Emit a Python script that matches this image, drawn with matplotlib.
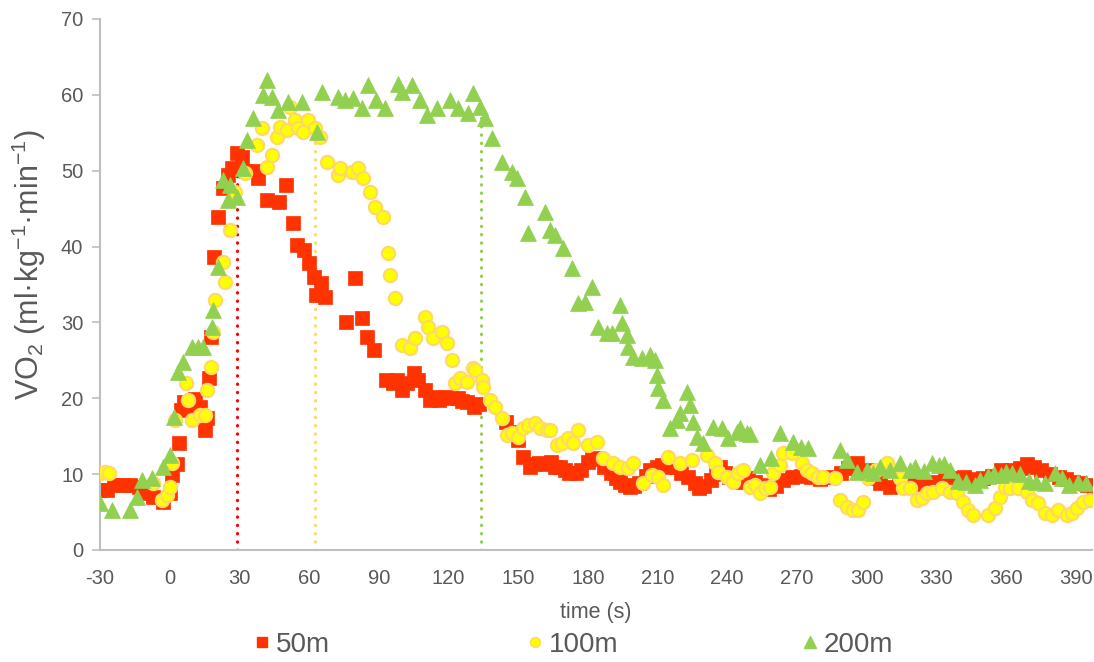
import matplotlib
matplotlib.use("Agg")
import matplotlib.pyplot as plt
from matplotlib.lines import Line2D

plt.rcParams['font.family'] = ['Liberation Sans', 'DejaVu Sans']
plt.rcParams['mathtext.fontset'] = 'custom'
plt.rcParams['mathtext.rm'] = 'Liberation Sans'
plt.rcParams['mathtext.it'] = 'Liberation Sans:italic'
plt.rcParams['axes.unicode_minus'] = False

# ---------------- data ----------------
t50 = [-30, -27, -24, -20, -17, -13, -11, -7, -3, 0, 1, 3, 4, 5, 6, 7, 9, 11, 13, 14, 15, 16, 17, 18,
       19, 21, 23, 25, 27, 29, 31, 33, 36, 38, 42, 47, 50, 53, 55, 58, 60, 62, 63, 65, 67, 76, 80, 83,
       85, 88, 93, 96, 98, 100, 102, 105, 107, 110, 112, 114, 116, 119, 121, 124, 126, 128, 131, 133,
       145, 148, 150, 152, 155, 157, 159, 162, 164, 166, 168, 170, 172, 175, 177, 180, 182, 184, 187,
       190, 192, 194, 196, 198, 200, 202, 205, 207, 210, 212, 215, 218, 220, 223, 226, 228, 230, 233,
       235, 237, 239, 241, 244, 246, 249, 252, 255, 258, 261, 264, 268, 272, 276, 280, 284, 289, 292,
       296, 300, 303, 306, 310, 314, 318, 322, 326, 330, 334, 338, 342, 346, 350, 354, 358, 362, 366,
       369, 372, 375, 379, 383, 386, 389, 392, 395, 398]
v50 = [7.9, 7.9, 8.6, 8.6, 8.6, 8.3, 7.5, 7.0, 6.3, 7.5, 9.9, 11.4, 14.1, 18.5, 19.5, 18.8, 19.5, 19.9,
       18.8, 17.4, 15.8, 17.4, 22.7, 28.1, 38.6, 43.9, 47.7, 49.4, 50.3, 52.3, 51.8, 50.0, 50.0, 49.0,
       46.1, 45.9, 48.1, 43.1, 40.2, 39.5, 37.8, 36.0, 33.6, 35.2, 33.4, 30.1, 35.9, 30.6, 28.1, 26.4,
       22.4, 22.0, 22.4, 21.1, 22.0, 23.3, 22.4, 21.1, 19.8, 20.2, 19.8, 20.2, 20.0, 20.0, 19.6, 19.5,
       18.8, 19.2, 16.9, 15.5, 14.5, 12.3, 10.9, 11.3, 11.5, 11.3, 11.6, 11.0, 10.9, 10.5, 10.1, 10.2,
       10.5, 11.6, 12.0, 12.1, 11.0, 10.1, 9.5, 9.0, 8.6, 8.3, 8.5, 8.8, 9.8, 10.5, 11.0, 11.2, 11.0,
       10.9, 10.2, 9.6, 8.8, 8.2, 8.5, 9.2, 10.0, 10.9, 10.2, 9.6, 9.3, 9.0, 9.5, 9.0, 8.6, 8.0, 8.5,
       9.2, 9.6, 9.8, 9.6, 9.4, 9.6, 10.1, 10.8, 11.5, 10.5, 9.5, 8.8, 8.3, 8.5, 8.6, 8.7, 8.8, 9.0,
       9.3, 9.5, 9.6, 9.4, 9.5, 9.8, 10.5, 10.6, 10.8, 11.3, 11.0, 10.5, 10.0, 9.6, 9.3, 9.0, 8.8,
       8.6, 8.2]

t100 = [-30, -28, -26, -7, -3.4, -1.3, 0, 0.9, 2.2, 7, 8, 9.5, 13, 15, 16, 18, 18.5, 19.4, 22.8, 23.7,
        25.9, 28, 32.3, 37.5, 39.6, 41.8, 43.9, 46.1, 47.4, 50.4, 51.7, 53.9, 55.1, 57.3, 59.5, 62.5,
        64.6, 67.6, 72.4, 73.2, 78.4, 81, 83.2, 86.2, 88.3, 91.8, 93.9, 94.8, 96.9, 100, 103.4, 105.6,
        109.9, 111.2, 113.3, 117.2, 119.3, 121.5, 122.8, 125, 128, 130.5, 131.4, 134.4, 134.8, 137.9,
        140, 143, 145.2, 147.4, 149.9, 152, 154.2, 157.3, 159.4, 162.4, 163.7, 166.7, 168.9, 171.5,
        173.6, 175.8, 180.1, 184, 186.6, 190.9, 194, 197.3, 199.5, 203.8, 207.7, 210.3, 212.4, 214.6,
        219.7, 224.9, 231.4, 234.8, 236.1, 240, 242.6, 244.7, 246.9, 249.9, 252, 254.2, 256.3, 258.5,
        259.8, 262.8, 264.1, 268, 272.3, 274.4, 276.6, 279.2, 281.3, 286.5, 288.7, 291.7, 294.3, 296.4,
        298.6, 300.7, 304, 308.9, 311, 314.5, 315.8, 318.8, 321.8, 324, 326.2, 328.7, 332.6, 336, 339,
        341.7, 343.8, 346, 352.4, 355.4, 357.6, 359.8, 361.9, 365.4, 369.2, 371.4, 374, 377, 380,
        382.6, 386.5, 388.6, 390.8, 393.4, 396.4]
v100 = [10.1, 10.3, 10.1, 8.8, 6.6, 7.2, 8.3, 11.5, 17.1, 22.0, 19.8, 17.1, 17.8, 17.8, 21.1, 24.1, 28.7,
        33.0, 38.0, 35.3, 42.2, 47.2, 49.7, 53.4, 55.6, 50.5, 52.1, 54.4, 55.8, 55.4, 58.4, 56.7, 55.6,
        55.1, 56.7, 55.6, 54.4, 51.1, 49.4, 50.4, 49.8, 50.4, 49.0, 47.2, 45.2, 43.9, 39.2, 36.3, 33.2,
        27.0, 26.6, 27.9, 30.7, 29.4, 27.9, 28.7, 27.3, 25.0, 22.0, 22.7, 22.1, 24.0, 23.7, 22.4, 21.5,
        19.8, 18.8, 17.4, 15.2, 15.4, 14.9, 16.1, 16.5, 16.7, 16.1, 15.8, 15.8, 13.8, 14.1, 14.8, 14.1,
        15.8, 13.8, 14.2, 12.1, 11.5, 11.0, 10.8, 11.5, 8.8, 9.9, 9.6, 8.6, 12.3, 11.5, 11.9, 12.5, 11.5,
        10.3, 9.6, 9.0, 10.1, 10.5, 8.3, 8.6, 7.5, 8.2, 8.3, 10.1, 11.2, 12.8, 12.8, 11.5, 10.5, 10.1,
        9.6, 9.6, 9.5, 6.6, 5.7, 5.3, 5.3, 6.3, 9.5, 10.5, 11.5, 10.5, 9.5, 8.2, 8.2, 6.6, 6.9, 7.5, 7.7,
        8.2, 7.6, 7.5, 6.3, 5.3, 4.6, 4.6, 5.5, 7.0, 8.3, 8.2, 8.2, 7.6, 6.6, 6.2, 4.9, 4.6, 5.3, 4.6,
        4.9, 5.5, 6.3, 6.6]

t200 = [-30, -25, -17.2, -14, -12, -7.8, -3, 0, 1.7, 3.4, 5.6, 9.5, 12, 14.2, 18.1, 18.5, 20.7, 22.8,
        25, 25.9, 28.9, 31.5, 33.2, 35.8, 40.1, 41.8, 43.9, 46.5, 50.8, 56.9, 63.3, 65.5, 72.4, 75.4,
        78.8, 82.7, 85.3, 89, 92.6, 98.2, 100, 104.3, 107.7, 110.7, 115, 120.6, 124, 128.4, 130.5,
        133.6, 135.7, 138.7, 143, 147.4, 149.5, 153, 154.2, 161.6, 163.7, 165.9, 169.3, 173.2, 175.8,
        178.8, 181.8, 184.4, 188.3, 190.4, 193.9, 194.7, 196.9, 197.3, 199.5, 203.4, 206.8, 209, 209.8,
        210.3, 212.4, 215.4, 218.4, 219.7, 222.8, 224, 225.3, 227.1, 229.6, 234, 237.8, 240.4, 244.3,
        245.6, 248.6, 249.9, 254, 259, 262.8, 268.5, 272, 275, 288.7, 291.7, 296, 300, 303, 306, 310,
        314.5, 318.8, 321, 324.9, 328, 331, 333.5, 336, 339.5, 343, 346.8, 349, 352.4, 355, 358, 360,
        362.8, 366, 370.1, 373, 377, 381.3, 384, 387.3, 391, 394.7]
v200 = [6.2, 5.3, 5.3, 7.0, 9.2, 9.5, 10.9, 12.5, 17.5, 23.5, 24.8, 26.8, 26.8, 26.8, 29.4, 31.6, 37.3,
        48.8, 46.1, 48.1, 46.5, 50.4, 54.0, 56.9, 60.0, 62.0, 59.7, 58.0, 59.0, 59.0, 55.1, 60.4, 59.7,
        59.3, 59.6, 58.3, 61.3, 59.3, 58.3, 61.4, 60.4, 61.3, 59.3, 57.3, 58.3, 59.3, 58.3, 57.6, 60.2,
        58.4, 57.0, 54.3, 51.1, 49.8, 49.0, 46.5, 41.8, 44.6, 42.2, 41.5, 39.8, 37.2, 32.6, 32.7, 34.7,
        29.4, 28.6, 28.6, 32.3, 29.9, 28.3, 26.8, 25.4, 25.3, 25.7, 25.0, 23.1, 21.4, 19.8, 16.1, 17.1,
        18.1, 20.8, 19.1, 16.9, 14.9, 14.1, 16.2, 16.1, 14.8, 15.6, 16.1, 15.4, 15.3, 11.2, 12.1, 15.4,
        14.2, 13.6, 13.4, 13.2, 11.9, 10.3, 10.5, 10.2, 10.9, 10.6, 11.5, 10.5, 11.0, 10.4, 11.5, 11.2,
        11.3, 10.5, 9.1, 8.9, 8.6, 9.2, 9.8, 10.0, 9.9, 10.3, 10.1, 10.0, 9.1, 9.0, 8.8, 10.1, 9.5, 8.6,
        9.0, 8.8]

labels = ['50m', '100m', '200m']
peak_t = [29, 62.5, 134]       # end-of-exercise markers (s)
peak_v = [52.3, 55.6, 58.3]    # height of the dotted markers

xticks = list(range(-30, 391, 30))
yticks = list(range(0, 71, 10))

# ---------------- styling ----------------
c_red, c_yel, c_yel_edge, c_grn = '#FF3300', '#FFFF00', '#FFD966', '#92D050'
vline_cols = ['#FF0000', '#FFD966', '#92D050']
txt = '#595959'
axc = '#BFBFBF'

fig = plt.figure(figsize=(10.94, 6.62), dpi=100)
ax = fig.add_axes([0.0914, 0.1692, 0.9066, 0.8021])

for x, h, c in zip(peak_t, peak_v, vline_cols):
    ax.plot([x, x], [0, h], color=c, lw=2.3, linestyle=(0, (0.1, 2.5)),
            dash_capstyle='round', zorder=1)

ax.plot(t50, v50, linestyle='none', marker='s', ms=10, mfc=c_red, mec=c_red, mew=0.5, zorder=2)
ax.plot(t100, v100, linestyle='none', marker='o', ms=9.5, mfc=c_yel, mec=c_yel_edge, mew=1.6, zorder=3)
ax.plot(t200, v200, linestyle='none', marker='^', ms=11, mfc=c_grn, mec=c_grn, mew=0.5, zorder=4)

ax.set_xlim(-30, 397)
ax.set_ylim(0, 70)
ax.set_xticks(xticks)
ax.set_yticks(yticks)
ax.tick_params(axis='x', length=0, labelsize=14.5, labelcolor=txt, pad=14)
ax.tick_params(axis='y', length=6, width=1.2, color=axc, labelsize=14.5, labelcolor=txt, pad=6)
for s in ['top', 'right']:
    ax.spines[s].set_visible(False)
for s in ['left', 'bottom']:
    ax.spines[s].set_color(axc)
    ax.spines[s].set_linewidth(1.5)

ax.set_xlabel('time (s)', fontsize=15.5, color=txt, labelpad=10)
ax.set_ylabel('VO$_2$ (ml·kg$^{-1}$·min$^{-1}$)', fontsize=22, color=txt)
ax.yaxis.set_label_coords(-0.052, 0.537)

# legend: three separately placed entries
handles = [
    Line2D([], [], linestyle='none', marker='s', ms=7, mfc=c_red, mec=c_red),
    Line2D([], [], linestyle='none', marker='o', ms=7, mfc=c_yel, mec=c_yel_edge, mew=1.2),
    Line2D([], [], linestyle='none', marker='^', ms=8, mfc=c_grn, mec=c_grn),
]
positions = [0.232, 0.481, 0.733]
for h, lab, px in zip(handles, labels, positions):
    lg = fig.legend([h], [lab], loc='center left', bbox_to_anchor=(px, 0.026), frameon=False,
                    handlelength=0.6, handletextpad=0.2, fontsize=20, borderaxespad=0,
                    borderpad=0)
    for t in lg.get_texts():
        t.set_color(txt)

fig.savefig('out.png', dpi=100)
